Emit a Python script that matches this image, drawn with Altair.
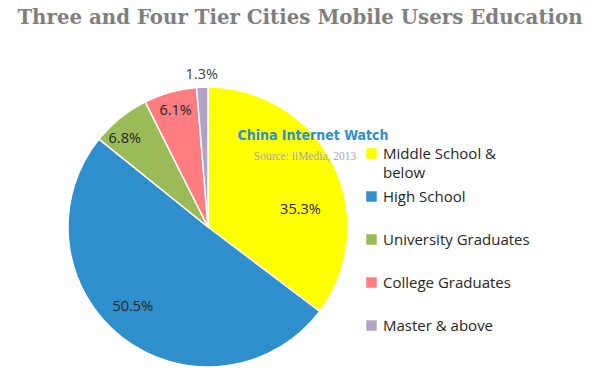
import altair as alt
import pandas as pd

categories = ["Middle School & below", "High School", "University Graduates",
              "College Graduates", "Master & above"]
values = [35.3, 50.5, 6.8, 6.1, 1.3]
colors = ["#FFFF00", "#2E8FCC", "#9BBB59", "#FF7C80", "#B3A2C7"]

df = pd.DataFrame({"category": categories, "value": values,
                   "order": list(range(len(categories)))})
df["label"] = df["value"].map(lambda v: f"{v:.1f}%")
one = pd.DataFrame({"k": [0]})

CX, CY = 208, 227
LABEL_FONT = "Open Sans"

base = alt.Chart(df).encode(
    theta=alt.Theta("value:Q", stack=True),
    order=alt.Order("order:Q"),
)

color = alt.Color(
    "category:N",
    scale=alt.Scale(domain=categories, range=colors),
    sort=categories,
    legend=alt.Legend(
        title=None, orient="none", legendX=364, legendY=146,
        symbolType="square", symbolSize=110, symbolStrokeWidth=0,
        labelFont=LABEL_FONT, labelFontSize=15, labelColor="#262626",
        rowPadding=27, labelLimit=250, symbolOffset=0, labelOffset=4,
        labelExpr="datum.label == 'Middle School & below' ? 'Middle School &' : datum.label",
    ),
)

pie = base.mark_arc(radius=140, stroke="white", strokeWidth=1.5).encode(
    color=color, x=alt.value(CX), y=alt.value(CY)
)


def label_layer(cond, radius, theta_offset=0.0, col="#262626"):
    return base.mark_text(font=LABEL_FONT, fontSize=14.5, color=col,
                          radius=radius, thetaOffset=theta_offset).encode(
        text="t:N", x=alt.value(CX), y=alt.value(CY)
    ).transform_calculate(t=f"({cond}) ? datum.label : ''")


first = label_layer("datum.order == 0", 94, 0.28)
big = label_layer("datum.order == 1", 110, 0.09)
third = label_layer("datum.order == 2", 121, -0.08)
fourth = label_layer("datum.order == 3", 120)
outside = label_layer("datum.value < 2", 152, 0.0, "#404040")

below = alt.Chart(one).mark_text(
    text="below", font=LABEL_FONT, fontSize=15, color="#262626", align="left",
).encode(x=alt.value(383), y=alt.value(173))

title = alt.Chart(one).mark_text(
    text="Three and Four Tier Cities Mobile Users Education",
    font="DejaVu Serif", fontWeight="bold", fontSize=19.8, color="#7F7F7F",
).encode(x=alt.value(300), y=alt.value(18))

wm = alt.Chart(one).mark_text(
    text="China Internet Watch", font="DejaVu Sans Condensed", fontWeight="bold",
    fontSize=14, color="#2E8FCC",
).encode(x=alt.value(313), y=alt.value(136))

src = alt.Chart(one).mark_text(
    text="Source: iiMedia,  2013", font="Liberation Serif", fontSize=11.5, color="#A6A6A6",
).encode(x=alt.value(305), y=alt.value(157))

chart = alt.layer(pie, first, big, third, fourth, outside, below, title, wm, src).properties(
    width=600, height=377, autosize=alt.AutoSizeParams(type="none"), padding=0
).configure_view(stroke=None)

chart.save("out.html", embed_options={"renderer": "svg", "actions": False})
